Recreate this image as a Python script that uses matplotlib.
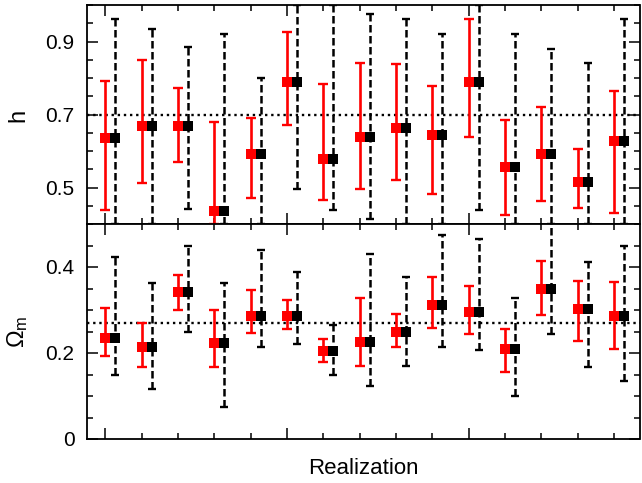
import matplotlib
matplotlib.use("Agg")
import matplotlib.pyplot as plt
from matplotlib.ticker import FixedLocator, MultipleLocator, FuncFormatter
import numpy as np

plt.rcParams['font.family'] = ['Liberation Sans', 'DejaVu Sans']
plt.rcParams['mathtext.fontset'] = 'custom'
plt.rcParams['mathtext.rm'] = 'Liberation Sans'
plt.rcParams['mathtext.it'] = 'Liberation Sans:italic'

realization = np.arange(15)

# h panel
h_val = [0.636, 0.668, 0.668, 0.435, 0.591, 0.788, 0.577, 0.638, 0.663, 0.645, 0.789, 0.555, 0.592, 0.514, 0.628]
h_red_hi = [0.792, 0.849, 0.772, 0.679, 0.691, 0.926, 0.783, 0.841, 0.838, 0.778, 0.961, 0.686, 0.721, 0.605, 0.765]
h_red_lo = [0.437, 0.513, 0.569, 0.400, 0.471, 0.670, 0.467, 0.497, 0.520, 0.481, 0.637, 0.425, 0.462, 0.444, 0.430]
h_blk_hi = [0.961, 0.935, 0.886, 0.921, 0.799, 1.000, 1.000, 0.975, 0.961, 0.921, 1.000, 0.921, 0.880, 0.841, 0.961]
h_blk_lo = [0.400, 0.400, 0.442, 0.400, 0.400, 0.497, 0.437, 0.414, 0.400, 0.400, 0.437, 0.400, 0.400, 0.400, 0.400]

# Omega_m panel
om_val = [0.235, 0.213, 0.342, 0.224, 0.285, 0.285, 0.205, 0.225, 0.249, 0.312, 0.295, 0.210, 0.349, 0.302, 0.285]
om_red_hi = [0.304, 0.270, 0.382, 0.299, 0.347, 0.324, 0.232, 0.328, 0.291, 0.377, 0.355, 0.256, 0.415, 0.367, 0.364]
om_red_lo = [0.193, 0.167, 0.301, 0.167, 0.246, 0.256, 0.180, 0.169, 0.213, 0.258, 0.245, 0.155, 0.289, 0.229, 0.210]
om_blk_hi = [0.423, 0.363, 0.450, 0.363, 0.439, 0.388, 0.264, 0.431, 0.376, 0.474, 0.464, 0.328, 0.540, 0.411, 0.448]
om_blk_lo = [0.148, 0.116, 0.250, 0.075, 0.213, 0.221, 0.148, 0.123, 0.169, 0.214, 0.206, 0.101, 0.245, 0.167, 0.136]

h_true = 0.7
om_true = 0.27
offset = 0.275

W, H = 642, 483
fig = plt.figure(figsize=(W / 100, H / 100), dpi=100)
L, R = 87 / W, 639.5 / W
ax1 = fig.add_axes([L, 1 - 224 / H, R - L, (224 - 5) / H])
ax2 = fig.add_axes([L, 1 - 439 / H, R - L, (439 - 224) / H])

def panel(ax, val, rhi, rlo, bhi, blo, truth):
    val = np.array(val); rhi = np.array(rhi); rlo = np.array(rlo)
    bhi = np.array(bhi); blo = np.array(blo)
    ax.axhline(truth, color='black', lw=1.7, ls=(0, (1, 1.6)), zorder=1)
    xb = realization + offset
    eb = ax.errorbar(xb, val, yerr=[val - blo, bhi - val], fmt='none',
                     ecolor='black', elinewidth=1.8, capsize=2.8, capthick=1.7, zorder=2)
    eb[2][0].set_linestyle((0, (3.0, 1.4)))
    ax.errorbar(realization, val, yerr=[val - rlo, rhi - val], fmt='none',
                ecolor='#ff0000', elinewidth=1.9, capsize=3.4, capthick=1.7, zorder=3)
    ax.plot(realization, val, 's', color='#ff0000', ms=7.5, mew=0, zorder=4)
    ax.plot(xb, val, 's', color='black', ms=7.5, mew=0, zorder=4)
    ax.set_xlim(-0.5, 14.7)
    ax.xaxis.set_major_locator(FixedLocator([0, 5, 10]))
    ax.xaxis.set_minor_locator(MultipleLocator(1))
    ax.tick_params(which='both', direction='in', top=True, right=True, width=1.1,
                   labelsize=15, pad=9)
    ax.tick_params(which='major', length=8)
    ax.tick_params(which='minor', length=4.5)
    ax.tick_params(axis='x', labelbottom=False)
    for s in ax.spines.values():
        s.set_linewidth(1.3)

panel(ax1, h_val, h_red_hi, h_red_lo, h_blk_hi, h_blk_lo, h_true)
ax1.set_ylim(0.4, 1.0)
ax1.yaxis.set_major_locator(FixedLocator([0.5, 0.7, 0.9]))
ax1.yaxis.set_minor_locator(MultipleLocator(0.05))
ax1.yaxis.set_major_formatter(FuncFormatter(lambda v, p: f"{v:.1f}"))

panel(ax2, om_val, om_red_hi, om_red_lo, om_blk_hi, om_blk_lo, om_true)
ax2.set_ylim(0, 0.5)
ax2.yaxis.set_major_locator(FixedLocator([0, 0.2, 0.4]))
ax2.yaxis.set_minor_locator(MultipleLocator(0.05))
ax2.yaxis.set_major_formatter(FuncFormatter(lambda v, p: "0" if v == 0 else f"{v:.1f}"))

fig.text(18 / W, 1 - 115 / H, 'h', fontsize=17, rotation=90, ha='center', va='center')
fig.text(18 / W, 1 - 332 / H, r'$\Omega_{\mathrm{m}}$', fontsize=17, rotation=90,
         ha='center', va='center')
fig.text(363 / W, 1 - 469 / H, 'Realization', fontsize=16, ha='center', va='center')

fig.savefig('out.png', dpi=100)
